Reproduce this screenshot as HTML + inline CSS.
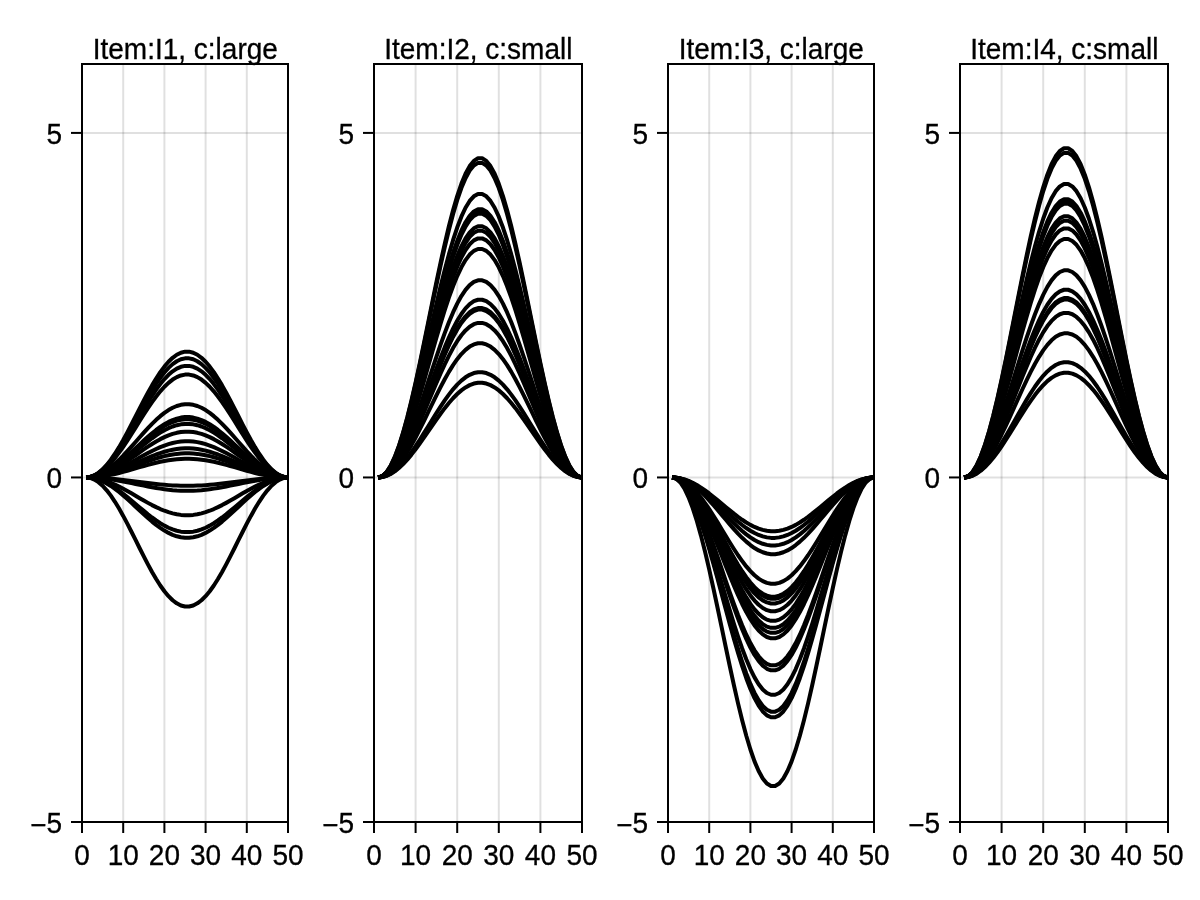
<!DOCTYPE html>
<html><head><meta charset="utf-8"><title>plot</title>
<style>html,body{margin:0;padding:0;background:#fff}svg{display:block}text{font-family:"Liberation Sans",sans-serif;font-size:28px;fill:#000;stroke:#000;stroke-width:0.3px}</style></head><body>
<svg width="1200" height="900" viewBox="0 0 1200 900">
<rect width="1200" height="900" fill="#fff"/>
<g>
<line x1="82.00" y1="64.0" x2="82.00" y2="822.0" stroke="rgba(0,0,0,0.12)" stroke-width="2"/>
<line x1="123.20" y1="64.0" x2="123.20" y2="822.0" stroke="rgba(0,0,0,0.12)" stroke-width="2"/>
<line x1="164.40" y1="64.0" x2="164.40" y2="822.0" stroke="rgba(0,0,0,0.12)" stroke-width="2"/>
<line x1="205.60" y1="64.0" x2="205.60" y2="822.0" stroke="rgba(0,0,0,0.12)" stroke-width="2"/>
<line x1="246.80" y1="64.0" x2="246.80" y2="822.0" stroke="rgba(0,0,0,0.12)" stroke-width="2"/>
<line x1="288.00" y1="64.0" x2="288.00" y2="822.0" stroke="rgba(0,0,0,0.12)" stroke-width="2"/>
<line x1="82" y1="822.00" x2="288" y2="822.00" stroke="rgba(0,0,0,0.12)" stroke-width="2"/>
<line x1="82" y1="477.45" x2="288" y2="477.45" stroke="rgba(0,0,0,0.12)" stroke-width="2"/>
<line x1="82" y1="132.91" x2="288" y2="132.91" stroke="rgba(0,0,0,0.12)" stroke-width="2"/>
<polyline points="86.12,477.45 90.24,476.94 94.36,475.40 98.48,472.85 102.60,469.35 106.72,464.95 110.84,459.72 114.96,453.75 119.08,447.13 123.20,439.98 127.32,432.41 131.44,424.55 135.56,416.52 139.68,408.45 143.80,400.49 147.92,392.75 152.04,385.38 156.16,378.48 160.28,372.17 164.40,366.56 168.52,361.73 172.64,357.78 176.76,354.75 180.88,352.70 185.00,351.67 189.12,351.67 193.24,352.70 197.36,354.75 201.48,357.78 205.60,361.73 209.72,366.56 213.84,372.17 217.96,378.48 222.08,385.38 226.20,392.75 230.32,400.49 234.44,408.45 238.56,416.52 242.68,424.55 246.80,432.41 250.92,439.98 255.04,447.13 259.16,453.75 263.28,459.72 267.40,464.95 271.52,469.35 275.64,472.85 279.76,475.40 283.88,476.94 288.00,477.45" fill="none" stroke="#000" stroke-width="4" stroke-linejoin="round"/>
<polyline points="86.12,477.45 90.24,476.97 94.36,475.50 98.48,473.10 102.60,469.78 106.72,465.61 110.84,460.66 114.96,455.01 119.08,448.74 123.20,441.97 127.32,434.80 131.44,427.35 135.56,419.74 139.68,412.11 143.80,404.56 147.92,397.24 152.04,390.25 156.16,383.72 160.28,377.75 164.40,372.43 168.52,367.86 172.64,364.11 176.76,361.24 180.88,359.31 185.00,358.33 189.12,358.33 193.24,359.31 197.36,361.24 201.48,364.11 205.60,367.86 209.72,372.43 213.84,377.75 217.96,383.72 222.08,390.25 226.20,397.24 230.32,404.56 234.44,412.11 238.56,419.74 242.68,427.35 246.80,434.80 250.92,441.97 255.04,448.74 259.16,455.01 263.28,460.66 267.40,465.61 271.52,469.78 275.64,473.10 279.76,475.50 283.88,476.97 288.00,477.45" fill="none" stroke="#000" stroke-width="4" stroke-linejoin="round"/>
<polyline points="86.12,477.45 90.24,477.00 94.36,475.63 98.48,473.37 102.60,470.27 106.72,466.37 110.84,461.73 114.96,456.43 119.08,450.56 123.20,444.22 127.32,437.51 131.44,430.53 135.56,423.41 139.68,416.26 143.80,409.20 147.92,402.34 152.04,395.79 156.16,389.68 160.28,384.08 164.40,379.10 168.52,374.83 172.64,371.31 176.76,368.63 180.88,366.81 185.00,365.90 189.12,365.90 193.24,366.81 197.36,368.63 201.48,371.31 205.60,374.83 209.72,379.10 213.84,384.08 217.96,389.68 222.08,395.79 226.20,402.34 230.32,409.20 234.44,416.26 238.56,423.41 242.68,430.53 246.80,437.51 250.92,444.22 255.04,450.56 259.16,456.43 263.28,461.73 267.40,466.37 271.52,470.27 275.64,473.37 279.76,475.63 283.88,477.00 288.00,477.45" fill="none" stroke="#000" stroke-width="4" stroke-linejoin="round"/>
<polyline points="86.12,477.45 90.24,477.03 94.36,475.77 98.48,473.69 102.60,470.83 106.72,467.23 110.84,462.96 114.96,458.07 119.08,452.66 123.20,446.81 127.32,440.62 131.44,434.19 135.56,427.62 139.68,421.03 143.80,414.52 147.92,408.19 152.04,402.16 156.16,396.52 160.28,391.36 164.40,386.78 168.52,382.83 172.64,379.59 176.76,377.12 180.88,375.44 185.00,374.60 189.12,374.60 193.24,375.44 197.36,377.12 201.48,379.59 205.60,382.83 209.72,386.78 213.84,391.36 217.96,396.52 222.08,402.16 226.20,408.19 230.32,414.52 234.44,421.03 238.56,427.62 242.68,434.19 246.80,440.62 250.92,446.81 255.04,452.66 259.16,458.07 263.28,462.96 267.40,467.23 271.52,470.83 275.64,473.69 279.76,475.77 283.88,477.03 288.00,477.45" fill="none" stroke="#000" stroke-width="4" stroke-linejoin="round"/>
<polyline points="86.12,477.45 90.24,477.15 94.36,476.26 98.48,474.77 102.60,472.74 106.72,470.17 110.84,467.13 114.96,463.65 119.08,459.80 123.20,455.63 127.32,451.22 131.44,446.64 135.56,441.96 139.68,437.27 143.80,432.63 147.92,428.13 152.04,423.83 156.16,419.81 160.28,416.14 164.40,412.87 168.52,410.06 172.64,407.76 176.76,405.99 180.88,404.80 185.00,404.20 189.12,404.20 193.24,404.80 197.36,405.99 201.48,407.76 205.60,410.06 209.72,412.87 213.84,416.14 217.96,419.81 222.08,423.83 226.20,428.13 230.32,432.63 234.44,437.27 238.56,441.96 242.68,446.64 246.80,451.22 250.92,455.63 255.04,459.80 259.16,463.65 263.28,467.13 267.40,470.17 271.52,472.74 275.64,474.77 279.76,476.26 283.88,477.15 288.00,477.45" fill="none" stroke="#000" stroke-width="4" stroke-linejoin="round"/>
<polyline points="86.12,477.45 90.24,477.21 94.36,476.47 98.48,475.25 102.60,473.57 106.72,471.46 110.84,468.95 114.96,466.08 119.08,462.91 123.20,459.47 127.32,455.84 131.44,452.07 135.56,448.21 139.68,444.35 143.80,440.52 147.92,436.81 152.04,433.27 156.16,429.96 160.28,426.94 164.40,424.24 168.52,421.93 172.64,420.03 176.76,418.58 180.88,417.60 185.00,417.10 189.12,417.10 193.24,417.60 197.36,418.58 201.48,420.03 205.60,421.93 209.72,424.24 213.84,426.94 217.96,429.96 222.08,433.27 226.20,436.81 230.32,440.52 234.44,444.35 238.56,448.21 242.68,452.07 246.80,455.84 250.92,459.47 255.04,462.91 259.16,466.08 263.28,468.95 267.40,471.46 271.52,473.57 275.64,475.25 279.76,476.47 283.88,477.21 288.00,477.45" fill="none" stroke="#000" stroke-width="4" stroke-linejoin="round"/>
<polyline points="86.12,477.45 90.24,477.22 94.36,476.50 98.48,475.32 102.60,473.70 106.72,471.66 110.84,469.24 114.96,466.48 119.08,463.41 123.20,460.10 127.32,456.59 131.44,452.95 135.56,449.23 139.68,445.50 143.80,441.81 147.92,438.23 152.04,434.81 156.16,431.62 160.28,428.69 164.40,426.10 168.52,423.86 172.64,422.03 176.76,420.63 180.88,419.68 185.00,419.20 189.12,419.20 193.24,419.68 197.36,420.63 201.48,422.03 205.60,423.86 209.72,426.10 213.84,428.69 217.96,431.62 222.08,434.81 226.20,438.23 230.32,441.81 234.44,445.50 238.56,449.23 242.68,452.95 246.80,456.59 250.92,460.10 255.04,463.41 259.16,466.48 263.28,469.24 267.40,471.66 271.52,473.70 275.64,475.32 279.76,476.50 283.88,477.22 288.00,477.45" fill="none" stroke="#000" stroke-width="4" stroke-linejoin="round"/>
<polyline points="86.12,477.45 90.24,477.23 94.36,476.58 98.48,475.50 102.60,474.01 106.72,472.13 110.84,469.90 114.96,467.36 119.08,464.55 123.20,461.50 127.32,458.28 131.44,454.93 135.56,451.51 139.68,448.08 143.80,444.69 147.92,441.39 152.04,438.25 156.16,435.31 160.28,432.63 164.40,430.24 168.52,428.18 172.64,426.50 176.76,425.21 180.88,424.34 185.00,423.90 189.12,423.90 193.24,424.34 197.36,425.21 201.48,426.50 205.60,428.18 209.72,430.24 213.84,432.63 217.96,435.31 222.08,438.25 226.20,441.39 230.32,444.69 234.44,448.08 238.56,451.51 242.68,454.93 246.80,458.28 250.92,461.50 255.04,464.55 259.16,467.36 263.28,469.90 267.40,472.13 271.52,474.01 275.64,475.50 279.76,476.58 283.88,477.23 288.00,477.45" fill="none" stroke="#000" stroke-width="4" stroke-linejoin="round"/>
<polyline points="86.12,477.45 90.24,477.27 94.36,476.71 98.48,475.78 102.60,474.51 106.72,472.91 110.84,471.00 114.96,468.83 119.08,466.43 123.20,463.82 127.32,461.07 131.44,458.21 135.56,455.29 139.68,452.35 143.80,449.46 147.92,446.64 152.04,443.96 156.16,441.45 160.28,439.16 164.40,437.12 168.52,435.36 172.64,433.92 176.76,432.82 180.88,432.08 185.00,431.70 189.12,431.70 193.24,432.08 197.36,432.82 201.48,433.92 205.60,435.36 209.72,437.12 213.84,439.16 217.96,441.45 222.08,443.96 226.20,446.64 230.32,449.46 234.44,452.35 238.56,455.29 242.68,458.21 246.80,461.07 250.92,463.82 255.04,466.43 259.16,468.83 263.28,471.00 267.40,472.91 271.52,474.51 275.64,475.78 279.76,476.71 283.88,477.27 288.00,477.45" fill="none" stroke="#000" stroke-width="4" stroke-linejoin="round"/>
<polyline points="86.12,477.45 90.24,477.31 94.36,476.86 98.48,476.13 102.60,475.12 106.72,473.86 110.84,472.35 114.96,470.63 119.08,468.73 123.20,466.67 127.32,464.49 131.44,462.23 135.56,459.91 139.68,457.59 143.80,455.30 147.92,453.08 152.04,450.95 156.16,448.97 160.28,447.15 164.40,445.54 168.52,444.15 172.64,443.01 176.76,442.14 180.88,441.55 185.00,441.25 189.12,441.25 193.24,441.55 197.36,442.14 201.48,443.01 205.60,444.15 209.72,445.54 213.84,447.15 217.96,448.97 222.08,450.95 226.20,453.08 230.32,455.30 234.44,457.59 238.56,459.91 242.68,462.23 246.80,464.49 250.92,466.67 255.04,468.73 259.16,470.63 263.28,472.35 267.40,473.86 271.52,475.12 275.64,476.13 279.76,476.86 283.88,477.31 288.00,477.45" fill="none" stroke="#000" stroke-width="4" stroke-linejoin="round"/>
<polyline points="86.12,477.45 90.24,477.33 94.36,476.98 98.48,476.39 102.60,475.58 106.72,474.56 110.84,473.34 114.96,471.96 119.08,470.43 123.20,468.77 127.32,467.01 131.44,465.19 135.56,463.33 139.68,461.46 143.80,459.62 147.92,457.82 152.04,456.11 156.16,454.51 160.28,453.05 164.40,451.75 168.52,450.63 172.64,449.72 176.76,449.01 180.88,448.54 185.00,448.30 189.12,448.30 193.24,448.54 197.36,449.01 201.48,449.72 205.60,450.63 209.72,451.75 213.84,453.05 217.96,454.51 222.08,456.11 226.20,457.82 230.32,459.62 234.44,461.46 238.56,463.33 242.68,465.19 246.80,467.01 250.92,468.77 255.04,470.43 259.16,471.96 263.28,473.34 267.40,474.56 271.52,475.58 275.64,476.39 279.76,476.98 283.88,477.33 288.00,477.45" fill="none" stroke="#000" stroke-width="4" stroke-linejoin="round"/>
<polyline points="86.12,477.45 90.24,477.36 94.36,477.06 98.48,476.57 102.60,475.90 106.72,475.05 110.84,474.05 114.96,472.90 119.08,471.63 123.20,470.26 127.32,468.80 131.44,467.29 135.56,465.75 139.68,464.20 143.80,462.67 147.92,461.19 152.04,459.77 156.16,458.45 160.28,457.24 164.40,456.16 168.52,455.23 172.64,454.47 176.76,453.89 180.88,453.50 185.00,453.30 189.12,453.30 193.24,453.50 197.36,453.89 201.48,454.47 205.60,455.23 209.72,456.16 213.84,457.24 217.96,458.45 222.08,459.77 226.20,461.19 230.32,462.67 234.44,464.20 238.56,465.75 242.68,467.29 246.80,468.80 250.92,470.26 255.04,471.63 259.16,472.90 263.28,474.05 267.40,475.05 271.52,475.90 275.64,476.57 279.76,477.06 283.88,477.36 288.00,477.45" fill="none" stroke="#000" stroke-width="4" stroke-linejoin="round"/>
<polyline points="86.12,477.45 90.24,477.38 94.36,477.15 98.48,476.77 102.60,476.25 106.72,475.60 110.84,474.82 114.96,473.93 119.08,472.95 123.20,471.88 127.32,470.76 131.44,469.59 135.56,468.39 139.68,467.19 143.80,466.01 147.92,464.86 152.04,463.76 156.16,462.74 160.28,461.80 164.40,460.96 168.52,460.25 172.64,459.66 176.76,459.21 180.88,458.90 185.00,458.75 189.12,458.75 193.24,458.90 197.36,459.21 201.48,459.66 205.60,460.25 209.72,460.96 213.84,461.80 217.96,462.74 222.08,463.76 226.20,464.86 230.32,466.01 234.44,467.19 238.56,468.39 242.68,469.59 246.80,470.76 250.92,471.88 255.04,472.95 259.16,473.93 263.28,474.82 267.40,475.60 271.52,476.25 275.64,476.77 279.76,477.15 283.88,477.38 288.00,477.45" fill="none" stroke="#000" stroke-width="4" stroke-linejoin="round"/>
<polyline points="86.12,477.45 90.24,477.49 94.36,477.59 98.48,477.76 102.60,477.99 106.72,478.28 110.84,478.63 114.96,479.03 119.08,479.47 123.20,479.94 127.32,480.44 131.44,480.96 135.56,481.50 139.68,482.03 143.80,482.56 147.92,483.07 152.04,483.56 156.16,484.02 160.28,484.44 164.40,484.81 168.52,485.13 172.64,485.39 176.76,485.60 180.88,485.73 185.00,485.80 189.12,485.80 193.24,485.73 197.36,485.60 201.48,485.39 205.60,485.13 209.72,484.81 213.84,484.44 217.96,484.02 222.08,483.56 226.20,483.07 230.32,482.56 234.44,482.03 238.56,481.50 242.68,480.96 246.80,480.44 250.92,479.94 255.04,479.47 259.16,479.03 263.28,478.63 267.40,478.28 271.52,477.99 275.64,477.76 279.76,477.59 283.88,477.49 288.00,477.45" fill="none" stroke="#000" stroke-width="4" stroke-linejoin="round"/>
<polyline points="86.12,477.45 90.24,477.51 94.36,477.67 98.48,477.94 102.60,478.31 106.72,478.78 110.84,479.34 114.96,479.97 119.08,480.67 123.20,481.43 127.32,482.23 131.44,483.07 135.56,483.92 139.68,484.78 143.80,485.62 147.92,486.44 152.04,487.22 156.16,487.96 160.28,488.62 164.40,489.22 168.52,489.73 172.64,490.15 176.76,490.47 180.88,490.69 185.00,490.80 189.12,490.80 193.24,490.69 197.36,490.47 201.48,490.15 205.60,489.73 209.72,489.22 213.84,488.62 217.96,487.96 222.08,487.22 226.20,486.44 230.32,485.62 234.44,484.78 238.56,483.92 242.68,483.07 246.80,482.23 250.92,481.43 255.04,480.67 259.16,479.97 263.28,479.34 267.40,478.78 271.52,478.31 275.64,477.94 279.76,477.67 283.88,477.51 288.00,477.45" fill="none" stroke="#000" stroke-width="4" stroke-linejoin="round"/>
<polyline points="86.12,477.45 90.24,477.61 94.36,478.07 98.48,478.84 102.60,479.89 106.72,481.21 110.84,482.78 114.96,484.57 119.08,486.55 123.20,488.70 127.32,490.97 131.44,493.33 135.56,495.74 139.68,498.16 143.80,500.55 147.92,502.87 152.04,505.09 156.16,507.16 160.28,509.05 164.40,510.73 168.52,512.18 172.64,513.37 176.76,514.28 180.88,514.89 185.00,515.20 189.12,515.20 193.24,514.89 197.36,514.28 201.48,513.37 205.60,512.18 209.72,510.73 213.84,509.05 217.96,507.16 222.08,505.09 226.20,502.87 230.32,500.55 234.44,498.16 238.56,495.74 242.68,493.33 246.80,490.97 250.92,488.70 255.04,486.55 259.16,484.57 263.28,482.78 267.40,481.21 271.52,479.89 275.64,478.84 279.76,478.07 283.88,477.61 288.00,477.45" fill="none" stroke="#000" stroke-width="4" stroke-linejoin="round"/>
<polyline points="86.12,477.45 90.24,477.68 94.36,478.35 98.48,479.45 102.60,480.97 106.72,482.89 110.84,485.16 114.96,487.75 119.08,490.63 123.20,493.73 127.32,497.02 131.44,500.44 135.56,503.93 139.68,507.43 143.80,510.89 147.92,514.25 152.04,517.46 156.16,520.45 160.28,523.19 164.40,525.63 168.52,527.73 172.64,529.45 176.76,530.76 180.88,531.65 185.00,532.10 189.12,532.10 193.24,531.65 197.36,530.76 201.48,529.45 205.60,527.73 209.72,525.63 213.84,523.19 217.96,520.45 222.08,517.46 226.20,514.25 230.32,510.89 234.44,507.43 238.56,503.93 242.68,500.44 246.80,497.02 250.92,493.73 255.04,490.63 259.16,487.75 263.28,485.16 267.40,482.89 271.52,480.97 275.64,479.45 279.76,478.35 283.88,477.68 288.00,477.45" fill="none" stroke="#000" stroke-width="4" stroke-linejoin="round"/>
<polyline points="86.12,477.45 90.24,477.70 94.36,478.44 98.48,479.66 102.60,481.34 106.72,483.45 110.84,485.95 114.96,488.82 119.08,491.99 123.20,495.42 127.32,499.05 131.44,502.82 135.56,506.67 139.68,510.53 143.80,514.35 147.92,518.06 152.04,521.59 156.16,524.90 160.28,527.92 164.40,530.61 168.52,532.93 172.64,534.82 176.76,536.27 180.88,537.26 185.00,537.75 189.12,537.75 193.24,537.26 197.36,536.27 201.48,534.82 205.60,532.93 209.72,530.61 213.84,527.92 217.96,524.90 222.08,521.59 226.20,518.06 230.32,514.35 234.44,510.53 238.56,506.67 242.68,502.82 246.80,499.05 250.92,495.42 255.04,491.99 259.16,488.82 263.28,485.95 267.40,483.45 271.52,481.34 275.64,479.66 279.76,478.44 283.88,477.70 288.00,477.45" fill="none" stroke="#000" stroke-width="4" stroke-linejoin="round"/>
<polyline points="86.12,477.45 90.24,477.98 94.36,479.57 98.48,482.17 102.60,485.77 106.72,490.28 110.84,495.65 114.96,501.77 119.08,508.56 123.20,515.90 127.32,523.67 131.44,531.74 135.56,539.97 139.68,548.25 143.80,556.42 147.92,564.35 152.04,571.92 156.16,579.00 160.28,585.47 164.40,591.22 168.52,596.17 172.64,600.24 176.76,603.34 180.88,605.44 185.00,606.50 189.12,606.50 193.24,605.44 197.36,603.34 201.48,600.24 205.60,596.17 209.72,591.22 213.84,585.47 217.96,579.00 222.08,571.92 226.20,564.35 230.32,556.42 234.44,548.25 238.56,539.97 242.68,531.74 246.80,523.67 250.92,515.90 255.04,508.56 259.16,501.77 263.28,495.65 267.40,490.28 271.52,485.77 275.64,482.17 279.76,479.57 283.88,477.98 288.00,477.45" fill="none" stroke="#000" stroke-width="4" stroke-linejoin="round"/>
<rect x="82" y="64.0" width="206" height="758.0" fill="none" stroke="#000" stroke-width="2"/>
<line x1="82.00" y1="822.0" x2="82.00" y2="833.0" stroke="#000" stroke-width="2"/>
<text transform="translate(82.00,864.7) scale(1,1.04)" text-anchor="middle">0</text>
<line x1="123.20" y1="822.0" x2="123.20" y2="833.0" stroke="#000" stroke-width="2"/>
<text transform="translate(123.20,864.7) scale(1,1.04)" text-anchor="middle">10</text>
<line x1="164.40" y1="822.0" x2="164.40" y2="833.0" stroke="#000" stroke-width="2"/>
<text transform="translate(164.40,864.7) scale(1,1.04)" text-anchor="middle">20</text>
<line x1="205.60" y1="822.0" x2="205.60" y2="833.0" stroke="#000" stroke-width="2"/>
<text transform="translate(205.60,864.7) scale(1,1.04)" text-anchor="middle">30</text>
<line x1="246.80" y1="822.0" x2="246.80" y2="833.0" stroke="#000" stroke-width="2"/>
<text transform="translate(246.80,864.7) scale(1,1.04)" text-anchor="middle">40</text>
<line x1="288.00" y1="822.0" x2="288.00" y2="833.0" stroke="#000" stroke-width="2"/>
<text transform="translate(288.00,864.7) scale(1,1.04)" text-anchor="middle">50</text>
<line x1="71" y1="822.00" x2="82" y2="822.00" stroke="#000" stroke-width="2"/>
<text transform="translate(62,832.90) scale(1,1.04)" text-anchor="end"><tspan dy="2.2">−</tspan><tspan dy="-2.2">5</tspan></text>
<line x1="71" y1="477.45" x2="82" y2="477.45" stroke="#000" stroke-width="2"/>
<text transform="translate(62,488.35) scale(1,1.04)" text-anchor="end">0</text>
<line x1="71" y1="132.91" x2="82" y2="132.91" stroke="#000" stroke-width="2"/>
<text transform="translate(62,143.81) scale(1,1.04)" text-anchor="end">5</text>
<text transform="translate(185.30,58.75) scale(1,1.055)" text-anchor="middle">Item:I1, c:large</text>
</g>
<g>
<line x1="374.00" y1="64.0" x2="374.00" y2="822.0" stroke="rgba(0,0,0,0.12)" stroke-width="2"/>
<line x1="415.60" y1="64.0" x2="415.60" y2="822.0" stroke="rgba(0,0,0,0.12)" stroke-width="2"/>
<line x1="457.20" y1="64.0" x2="457.20" y2="822.0" stroke="rgba(0,0,0,0.12)" stroke-width="2"/>
<line x1="498.80" y1="64.0" x2="498.80" y2="822.0" stroke="rgba(0,0,0,0.12)" stroke-width="2"/>
<line x1="540.40" y1="64.0" x2="540.40" y2="822.0" stroke="rgba(0,0,0,0.12)" stroke-width="2"/>
<line x1="582.00" y1="64.0" x2="582.00" y2="822.0" stroke="rgba(0,0,0,0.12)" stroke-width="2"/>
<line x1="374" y1="822.00" x2="582" y2="822.00" stroke="rgba(0,0,0,0.12)" stroke-width="2"/>
<line x1="374" y1="477.45" x2="582" y2="477.45" stroke="rgba(0,0,0,0.12)" stroke-width="2"/>
<line x1="374" y1="132.91" x2="582" y2="132.91" stroke="rgba(0,0,0,0.12)" stroke-width="2"/>
<polyline points="378.16,477.45 382.32,476.14 386.48,472.23 390.64,465.78 394.80,456.90 398.96,445.73 403.12,432.46 407.28,417.31 411.44,400.52 415.60,382.37 419.76,363.16 423.92,343.21 428.08,322.83 432.24,302.37 436.40,282.17 440.56,262.54 444.72,243.83 448.88,226.32 453.04,210.32 457.20,196.08 461.36,183.84 465.52,173.79 469.68,166.11 473.84,160.92 478.00,158.30 482.16,158.30 486.32,160.92 490.48,166.11 494.64,173.79 498.80,183.84 502.96,196.08 507.12,210.32 511.28,226.32 515.44,243.83 519.60,262.54 523.76,282.17 527.92,302.37 532.08,322.83 536.24,343.21 540.40,363.16 544.56,382.37 548.72,400.52 552.88,417.31 557.04,432.46 561.20,445.73 565.36,456.90 569.52,465.78 573.68,472.23 577.84,476.14 582.00,477.45" fill="none" stroke="#000" stroke-width="4" stroke-linejoin="round"/>
<polyline points="378.16,477.45 382.32,476.16 386.48,472.31 390.64,465.95 394.80,457.20 398.96,446.19 403.12,433.11 407.28,418.18 411.44,401.63 415.60,383.74 419.76,364.81 423.92,345.14 428.08,325.06 432.24,304.90 436.40,284.98 440.56,265.64 444.72,247.19 448.88,229.94 453.04,214.17 457.20,200.13 461.36,188.07 465.52,178.17 469.68,170.60 473.84,165.48 478.00,162.90 482.16,162.90 486.32,165.48 490.48,170.60 494.64,178.17 498.80,188.07 502.96,200.13 507.12,214.17 511.28,229.94 515.44,247.19 519.60,265.64 523.76,284.98 527.92,304.90 532.08,325.06 536.24,345.14 540.40,364.81 544.56,383.74 548.72,401.63 552.88,418.18 557.04,433.11 561.20,446.19 565.36,457.20 569.52,465.95 573.68,472.31 577.84,476.16 582.00,477.45" fill="none" stroke="#000" stroke-width="4" stroke-linejoin="round"/>
<polyline points="378.16,477.45 382.32,476.29 386.48,472.81 390.64,467.09 394.80,459.20 398.96,449.28 403.12,437.50 407.28,424.04 411.44,409.13 415.60,393.01 419.76,375.95 423.92,358.22 428.08,340.13 432.24,321.96 436.40,304.01 440.56,286.58 444.72,269.96 448.88,254.41 453.04,240.20 457.20,227.55 461.36,216.68 465.52,207.76 469.68,200.94 473.84,196.32 478.00,194.00 482.16,194.00 486.32,196.32 490.48,200.94 494.64,207.76 498.80,216.68 502.96,227.55 507.12,240.20 511.28,254.41 515.44,269.96 519.60,286.58 523.76,304.01 527.92,321.96 532.08,340.13 536.24,358.22 540.40,375.95 544.56,393.01 548.72,409.13 552.88,424.04 557.04,437.50 561.20,449.28 565.36,459.20 569.52,467.09 573.68,472.81 577.84,476.29 582.00,477.45" fill="none" stroke="#000" stroke-width="4" stroke-linejoin="round"/>
<polyline points="378.16,477.45 382.32,476.35 386.48,473.06 390.64,467.64 394.80,460.18 398.96,450.79 403.12,439.64 407.28,426.90 411.44,412.79 415.60,397.54 419.76,381.39 423.92,364.62 428.08,347.49 432.24,330.30 436.40,313.31 440.56,296.82 444.72,281.09 448.88,266.37 453.04,252.92 457.20,240.95 461.36,230.66 465.52,222.22 469.68,215.76 473.84,211.40 478.00,209.20 482.16,209.20 486.32,211.40 490.48,215.76 494.64,222.22 498.80,230.66 502.96,240.95 507.12,252.92 511.28,266.37 515.44,281.09 519.60,296.82 523.76,313.31 527.92,330.30 532.08,347.49 536.24,364.62 540.40,381.39 544.56,397.54 548.72,412.79 552.88,426.90 557.04,439.64 561.20,450.79 565.36,460.18 569.52,467.64 573.68,473.06 577.84,476.35 582.00,477.45" fill="none" stroke="#000" stroke-width="4" stroke-linejoin="round"/>
<polyline points="378.16,477.45 382.32,476.36 386.48,473.10 390.64,467.73 394.80,460.33 398.96,451.02 403.12,439.96 407.28,427.34 411.44,413.35 415.60,398.22 419.76,382.22 423.92,365.59 428.08,348.61 432.24,331.56 436.40,314.72 440.56,298.37 444.72,282.77 448.88,268.18 453.04,254.85 457.20,242.98 461.36,232.78 465.52,224.41 469.68,218.01 473.84,213.68 478.00,211.50 482.16,211.50 486.32,213.68 490.48,218.01 494.64,224.41 498.80,232.78 502.96,242.98 507.12,254.85 511.28,268.18 515.44,282.77 519.60,298.37 523.76,314.72 527.92,331.56 532.08,348.61 536.24,365.59 540.40,382.22 544.56,398.22 548.72,413.35 552.88,427.34 557.04,439.96 561.20,451.02 565.36,460.33 569.52,467.73 573.68,473.10 577.84,476.36 582.00,477.45" fill="none" stroke="#000" stroke-width="4" stroke-linejoin="round"/>
<polyline points="378.16,477.45 382.32,476.37 386.48,473.14 390.64,467.81 394.80,460.47 398.96,451.24 403.12,440.28 407.28,427.76 411.44,413.89 415.60,398.89 419.76,383.02 423.92,366.53 428.08,349.70 432.24,332.79 436.40,316.10 440.56,299.88 444.72,284.42 448.88,269.95 453.04,256.73 457.20,244.97 461.36,234.85 465.52,226.55 469.68,220.20 473.84,215.91 478.00,213.75 482.16,213.75 486.32,215.91 490.48,220.20 494.64,226.55 498.80,234.85 502.96,244.97 507.12,256.73 511.28,269.95 515.44,284.42 519.60,299.88 523.76,316.10 527.92,332.79 532.08,349.70 536.24,366.53 540.40,383.02 544.56,398.89 548.72,413.89 552.88,427.76 557.04,440.28 561.20,451.24 565.36,460.47 569.52,467.81 573.68,473.14 577.84,476.37 582.00,477.45" fill="none" stroke="#000" stroke-width="4" stroke-linejoin="round"/>
<polyline points="378.16,477.45 382.32,476.42 386.48,473.34 390.64,468.27 394.80,461.28 398.96,452.49 403.12,442.04 407.28,430.12 411.44,416.90 415.60,402.62 419.76,387.50 423.92,371.79 428.08,355.75 432.24,339.65 436.40,323.75 440.56,308.30 444.72,293.57 448.88,279.79 453.04,267.19 457.20,255.99 461.36,246.35 465.52,238.44 469.68,232.40 473.84,228.31 478.00,226.25 482.16,226.25 486.32,228.31 490.48,232.40 494.64,238.44 498.80,246.35 502.96,255.99 507.12,267.19 511.28,279.79 515.44,293.57 519.60,308.30 523.76,323.75 527.92,339.65 532.08,355.75 536.24,371.79 540.40,387.50 544.56,402.62 548.72,416.90 552.88,430.12 557.04,442.04 561.20,452.49 565.36,461.28 569.52,468.27 573.68,473.34 577.84,476.42 582.00,477.45" fill="none" stroke="#000" stroke-width="4" stroke-linejoin="round"/>
<polyline points="378.16,477.45 382.32,476.44 386.48,473.42 390.64,468.43 394.80,461.57 398.96,452.94 403.12,442.68 407.28,430.97 411.44,418.00 415.60,403.97 419.76,389.13 423.92,373.70 428.08,357.96 432.24,342.15 436.40,326.53 440.56,311.36 444.72,296.90 448.88,283.37 453.04,271.00 457.20,260.00 461.36,250.54 465.52,242.77 469.68,236.84 473.84,232.82 478.00,230.80 482.16,230.80 486.32,232.82 490.48,236.84 494.64,242.77 498.80,250.54 502.96,260.00 507.12,271.00 511.28,283.37 515.44,296.90 519.60,311.36 523.76,326.53 527.92,342.15 532.08,357.96 536.24,373.70 540.40,389.13 544.56,403.97 548.72,418.00 552.88,430.97 557.04,442.68 561.20,452.94 565.36,461.57 569.52,468.43 573.68,473.42 577.84,476.44 582.00,477.45" fill="none" stroke="#000" stroke-width="4" stroke-linejoin="round"/>
<polyline points="378.16,477.45 382.32,476.47 386.48,473.54 390.64,468.71 394.80,462.06 398.96,453.69 403.12,443.75 407.28,432.41 411.44,419.83 415.60,406.24 419.76,391.85 423.92,376.90 428.08,361.64 432.24,346.32 436.40,331.18 440.56,316.48 444.72,302.46 448.88,289.35 453.04,277.36 457.20,266.70 461.36,257.53 465.52,250.00 469.68,244.25 473.84,240.36 478.00,238.40 482.16,238.40 486.32,240.36 490.48,244.25 494.64,250.00 498.80,257.53 502.96,266.70 507.12,277.36 511.28,289.35 515.44,302.46 519.60,316.48 523.76,331.18 527.92,346.32 532.08,361.64 536.24,376.90 540.40,391.85 544.56,406.24 548.72,419.83 552.88,432.41 557.04,443.75 561.20,453.69 565.36,462.06 569.52,468.71 573.68,473.54 577.84,476.47 582.00,477.45" fill="none" stroke="#000" stroke-width="4" stroke-linejoin="round"/>
<polyline points="378.16,477.45 382.32,476.52 386.48,473.71 390.64,469.10 394.80,462.74 398.96,454.75 403.12,445.25 407.28,434.40 411.44,422.39 415.60,409.39 419.76,395.64 423.92,381.36 428.08,366.77 432.24,352.13 436.40,337.67 440.56,323.62 444.72,310.22 448.88,297.69 453.04,286.24 457.20,276.04 461.36,267.28 465.52,260.09 469.68,254.59 473.84,250.87 478.00,249.00 482.16,249.00 486.32,250.87 490.48,254.59 494.64,260.09 498.80,267.28 502.96,276.04 507.12,286.24 511.28,297.69 515.44,310.22 519.60,323.62 523.76,337.67 527.92,352.13 532.08,366.77 536.24,381.36 540.40,395.64 544.56,409.39 548.72,422.39 552.88,434.40 557.04,445.25 561.20,454.75 565.36,462.74 569.52,469.10 573.68,473.71 577.84,476.52 582.00,477.45" fill="none" stroke="#000" stroke-width="4" stroke-linejoin="round"/>
<polyline points="378.16,477.45 382.32,476.64 386.48,474.23 390.64,470.24 394.80,464.76 398.96,457.86 403.12,449.66 407.28,440.30 411.44,429.93 415.60,418.72 419.76,406.85 423.92,394.53 428.08,381.94 432.24,369.30 436.40,356.82 440.56,344.70 444.72,333.13 448.88,322.32 453.04,312.43 457.20,303.64 461.36,296.07 465.52,289.87 469.68,285.12 473.84,281.92 478.00,280.30 482.16,280.30 486.32,281.92 490.48,285.12 494.64,289.87 498.80,296.07 502.96,303.64 507.12,312.43 511.28,322.32 515.44,333.13 519.60,344.70 523.76,356.82 527.92,369.30 532.08,381.94 536.24,394.53 540.40,406.85 544.56,418.72 548.72,429.93 552.88,440.30 557.04,449.66 561.20,457.86 565.36,464.76 569.52,470.24 573.68,474.23 577.84,476.64 582.00,477.45" fill="none" stroke="#000" stroke-width="4" stroke-linejoin="round"/>
<polyline points="378.16,477.45 382.32,476.72 386.48,474.55 390.64,470.95 394.80,466.01 398.96,459.79 403.12,452.40 407.28,443.97 411.44,434.62 415.60,424.51 419.76,413.82 423.92,402.71 428.08,391.36 432.24,379.97 436.40,368.72 440.56,357.79 444.72,347.37 448.88,337.62 453.04,328.71 457.20,320.79 461.36,313.97 465.52,308.38 469.68,304.10 473.84,301.21 478.00,299.75 482.16,299.75 486.32,301.21 490.48,304.10 494.64,308.38 498.80,313.97 502.96,320.79 507.12,328.71 511.28,337.62 515.44,347.37 519.60,357.79 523.76,368.72 527.92,379.97 532.08,391.36 536.24,402.71 540.40,413.82 544.56,424.51 548.72,434.62 552.88,443.97 557.04,452.40 561.20,459.79 565.36,466.01 569.52,470.95 573.68,474.55 577.84,476.72 582.00,477.45" fill="none" stroke="#000" stroke-width="4" stroke-linejoin="round"/>
<polyline points="378.16,477.45 382.32,476.76 386.48,474.68 390.64,471.26 394.80,466.55 398.96,460.62 403.12,453.58 407.28,445.54 411.44,436.63 415.60,427.00 419.76,416.81 423.92,406.22 428.08,395.41 432.24,384.55 436.40,373.83 440.56,363.42 444.72,353.48 448.88,344.20 453.04,335.70 457.20,328.15 461.36,321.65 465.52,316.32 469.68,312.24 473.84,309.49 478.00,308.10 482.16,308.10 486.32,309.49 490.48,312.24 494.64,316.32 498.80,321.65 502.96,328.15 507.12,335.70 511.28,344.20 515.44,353.48 519.60,363.42 523.76,373.83 527.92,384.55 532.08,395.41 536.24,406.22 540.40,416.81 544.56,427.00 548.72,436.63 552.88,445.54 557.04,453.58 561.20,460.62 565.36,466.55 569.52,471.26 573.68,474.68 577.84,476.76 582.00,477.45" fill="none" stroke="#000" stroke-width="4" stroke-linejoin="round"/>
<polyline points="378.16,477.45 382.32,476.76 386.48,474.71 390.64,471.31 394.80,466.64 398.96,460.77 403.12,453.79 407.28,445.82 411.44,436.99 415.60,427.45 419.76,417.35 423.92,406.85 428.08,396.13 432.24,385.37 436.40,374.75 440.56,364.43 444.72,354.58 448.88,345.38 453.04,336.96 457.20,329.47 461.36,323.03 465.52,317.75 469.68,313.71 473.84,310.98 478.00,309.60 482.16,309.60 486.32,310.98 490.48,313.71 494.64,317.75 498.80,323.03 502.96,329.47 507.12,336.96 511.28,345.38 515.44,354.58 519.60,364.43 523.76,374.75 527.92,385.37 532.08,396.13 536.24,406.85 540.40,417.35 544.56,427.45 548.72,436.99 552.88,445.82 557.04,453.79 561.20,460.77 565.36,466.64 569.52,471.31 573.68,474.71 577.84,476.76 582.00,477.45" fill="none" stroke="#000" stroke-width="4" stroke-linejoin="round"/>
<polyline points="378.16,477.45 382.32,476.82 386.48,474.92 390.64,471.80 394.80,467.50 398.96,462.09 403.12,455.67 407.28,448.33 411.44,440.20 415.60,431.41 419.76,422.11 423.92,412.44 428.08,402.58 432.24,392.67 436.40,382.88 440.56,373.38 444.72,364.32 448.88,355.84 453.04,348.09 457.20,341.19 461.36,335.27 465.52,330.40 469.68,326.68 473.84,324.17 478.00,322.90 482.16,322.90 486.32,324.17 490.48,326.68 494.64,330.40 498.80,335.27 502.96,341.19 507.12,348.09 511.28,355.84 515.44,364.32 519.60,373.38 523.76,382.88 527.92,392.67 532.08,402.58 536.24,412.44 540.40,422.11 544.56,431.41 548.72,440.20 552.88,448.33 557.04,455.67 561.20,462.09 565.36,467.50 569.52,471.80 573.68,474.92 577.84,476.82 582.00,477.45" fill="none" stroke="#000" stroke-width="4" stroke-linejoin="round"/>
<polyline points="378.16,477.45 382.32,476.90 386.48,475.26 390.64,472.55 394.80,468.81 398.96,464.12 403.12,458.54 407.28,452.17 411.44,445.12 415.60,437.49 419.76,429.41 423.92,421.02 428.08,412.46 432.24,403.86 436.40,395.37 440.56,387.12 444.72,379.25 448.88,371.89 453.04,365.17 457.20,359.18 461.36,354.03 465.52,349.81 469.68,346.58 473.84,344.40 478.00,343.30 482.16,343.30 486.32,344.40 490.48,346.58 494.64,349.81 498.80,354.03 502.96,359.18 507.12,365.17 511.28,371.89 515.44,379.25 519.60,387.12 523.76,395.37 527.92,403.86 532.08,412.46 536.24,421.02 540.40,429.41 544.56,437.49 548.72,445.12 552.88,452.17 557.04,458.54 561.20,464.12 565.36,468.81 569.52,472.55 573.68,475.26 577.84,476.90 582.00,477.45" fill="none" stroke="#000" stroke-width="4" stroke-linejoin="round"/>
<polyline points="378.16,477.45 382.32,477.02 386.48,475.73 390.64,473.60 394.80,470.68 398.96,466.99 403.12,462.62 407.28,457.62 411.44,452.08 415.60,446.10 419.76,439.76 423.92,433.18 428.08,426.46 432.24,419.71 436.40,413.05 440.56,406.58 444.72,400.41 448.88,394.63 453.04,389.36 457.20,384.66 461.36,380.62 465.52,377.31 469.68,374.78 473.84,373.06 478.00,372.20 482.16,372.20 486.32,373.06 490.48,374.78 494.64,377.31 498.80,380.62 502.96,384.66 507.12,389.36 511.28,394.63 515.44,400.41 519.60,406.58 523.76,413.05 527.92,419.71 532.08,426.46 536.24,433.18 540.40,439.76 544.56,446.10 548.72,452.08 552.88,457.62 557.04,462.62 561.20,466.99 565.36,470.68 569.52,473.60 573.68,475.73 577.84,477.02 582.00,477.45" fill="none" stroke="#000" stroke-width="4" stroke-linejoin="round"/>
<polyline points="378.16,477.45 382.32,477.07 386.48,475.91 390.64,473.99 394.80,471.36 398.96,468.05 403.12,464.11 407.28,459.62 411.44,454.64 415.60,449.26 419.76,443.56 423.92,437.64 428.08,431.60 432.24,425.53 436.40,419.54 440.56,413.72 444.72,408.17 448.88,402.97 453.04,398.23 457.20,394.00 461.36,390.37 465.52,387.39 469.68,385.12 473.84,383.58 478.00,382.80 482.16,382.80 486.32,383.58 490.48,385.12 494.64,387.39 498.80,390.37 502.96,394.00 507.12,398.23 511.28,402.97 515.44,408.17 519.60,413.72 523.76,419.54 527.92,425.53 532.08,431.60 536.24,437.64 540.40,443.56 544.56,449.26 548.72,454.64 552.88,459.62 557.04,464.11 561.20,468.05 565.36,471.36 569.52,473.99 573.68,475.91 577.84,477.07 582.00,477.45" fill="none" stroke="#000" stroke-width="4" stroke-linejoin="round"/>
<rect x="374" y="64.0" width="208" height="758.0" fill="none" stroke="#000" stroke-width="2"/>
<line x1="374.00" y1="822.0" x2="374.00" y2="833.0" stroke="#000" stroke-width="2"/>
<text transform="translate(374.00,864.7) scale(1,1.04)" text-anchor="middle">0</text>
<line x1="415.60" y1="822.0" x2="415.60" y2="833.0" stroke="#000" stroke-width="2"/>
<text transform="translate(415.60,864.7) scale(1,1.04)" text-anchor="middle">10</text>
<line x1="457.20" y1="822.0" x2="457.20" y2="833.0" stroke="#000" stroke-width="2"/>
<text transform="translate(457.20,864.7) scale(1,1.04)" text-anchor="middle">20</text>
<line x1="498.80" y1="822.0" x2="498.80" y2="833.0" stroke="#000" stroke-width="2"/>
<text transform="translate(498.80,864.7) scale(1,1.04)" text-anchor="middle">30</text>
<line x1="540.40" y1="822.0" x2="540.40" y2="833.0" stroke="#000" stroke-width="2"/>
<text transform="translate(540.40,864.7) scale(1,1.04)" text-anchor="middle">40</text>
<line x1="582.00" y1="822.0" x2="582.00" y2="833.0" stroke="#000" stroke-width="2"/>
<text transform="translate(582.00,864.7) scale(1,1.04)" text-anchor="middle">50</text>
<line x1="363" y1="822.00" x2="374" y2="822.00" stroke="#000" stroke-width="2"/>
<text transform="translate(354,832.90) scale(1,1.04)" text-anchor="end"><tspan dy="2.2">−</tspan><tspan dy="-2.2">5</tspan></text>
<line x1="363" y1="477.45" x2="374" y2="477.45" stroke="#000" stroke-width="2"/>
<text transform="translate(354,488.35) scale(1,1.04)" text-anchor="end">0</text>
<line x1="363" y1="132.91" x2="374" y2="132.91" stroke="#000" stroke-width="2"/>
<text transform="translate(354,143.81) scale(1,1.04)" text-anchor="end">5</text>
<text transform="translate(478.30,58.75) scale(1,1.055)" text-anchor="middle">Item:I2, c:small</text>
</g>
<g>
<line x1="668.00" y1="64.0" x2="668.00" y2="822.0" stroke="rgba(0,0,0,0.12)" stroke-width="2"/>
<line x1="709.20" y1="64.0" x2="709.20" y2="822.0" stroke="rgba(0,0,0,0.12)" stroke-width="2"/>
<line x1="750.40" y1="64.0" x2="750.40" y2="822.0" stroke="rgba(0,0,0,0.12)" stroke-width="2"/>
<line x1="791.60" y1="64.0" x2="791.60" y2="822.0" stroke="rgba(0,0,0,0.12)" stroke-width="2"/>
<line x1="832.80" y1="64.0" x2="832.80" y2="822.0" stroke="rgba(0,0,0,0.12)" stroke-width="2"/>
<line x1="874.00" y1="64.0" x2="874.00" y2="822.0" stroke="rgba(0,0,0,0.12)" stroke-width="2"/>
<line x1="668" y1="822.00" x2="874" y2="822.00" stroke="rgba(0,0,0,0.12)" stroke-width="2"/>
<line x1="668" y1="477.45" x2="874" y2="477.45" stroke="rgba(0,0,0,0.12)" stroke-width="2"/>
<line x1="668" y1="132.91" x2="874" y2="132.91" stroke="rgba(0,0,0,0.12)" stroke-width="2"/>
<polyline points="672.12,477.45 676.24,477.68 680.36,478.33 684.48,479.42 688.60,480.92 692.72,482.80 696.84,485.03 700.96,487.59 705.08,490.41 709.20,493.47 713.32,496.71 717.44,500.07 721.56,503.50 725.68,506.95 729.80,510.35 733.92,513.66 738.04,516.81 742.16,519.76 746.28,522.46 750.40,524.86 754.52,526.92 758.64,528.61 762.76,529.90 766.88,530.78 771.00,531.22 775.12,531.22 779.24,530.78 783.36,529.90 787.48,528.61 791.60,526.92 795.72,524.86 799.84,522.46 803.96,519.76 808.08,516.81 812.20,513.66 816.32,510.35 820.44,506.95 824.56,503.50 828.68,500.07 832.80,496.71 836.92,493.47 841.04,490.41 845.16,487.59 849.28,485.03 853.40,482.80 857.52,480.92 861.64,479.42 865.76,478.33 869.88,477.68 874.00,477.45" fill="none" stroke="#000" stroke-width="4" stroke-linejoin="round"/>
<polyline points="672.12,477.45 676.24,477.70 680.36,478.44 684.48,479.66 688.60,481.35 692.72,483.46 696.84,485.97 700.96,488.84 705.08,492.02 709.20,495.46 713.32,499.09 717.44,502.87 721.56,506.73 725.68,510.60 729.80,514.43 733.92,518.14 738.04,521.69 742.16,525.00 746.28,528.03 750.40,530.73 754.52,533.05 758.64,534.95 762.76,536.40 766.88,537.38 771.00,537.88 775.12,537.88 779.24,537.38 783.36,536.40 787.48,534.95 791.60,533.05 795.72,530.73 799.84,528.03 803.96,525.00 808.08,521.69 812.20,518.14 816.32,514.43 820.44,510.60 824.56,506.73 828.68,502.87 832.80,499.09 836.92,495.46 841.04,492.02 845.16,488.84 849.28,485.97 853.40,483.46 857.52,481.35 861.64,479.66 865.76,478.44 869.88,477.70 874.00,477.45" fill="none" stroke="#000" stroke-width="4" stroke-linejoin="round"/>
<polyline points="672.12,477.45 676.24,477.73 680.36,478.57 684.48,479.94 688.60,481.83 692.72,484.21 696.84,487.04 700.96,490.27 705.08,493.84 709.20,497.71 713.32,501.80 717.44,506.06 721.56,510.40 725.68,514.76 729.80,519.06 733.92,523.24 738.04,527.23 742.16,530.96 746.28,534.37 750.40,537.40 754.52,540.01 758.64,542.15 762.76,543.79 766.88,544.89 771.00,545.45 775.12,545.45 779.24,544.89 783.36,543.79 787.48,542.15 791.60,540.01 795.72,537.40 799.84,534.37 803.96,530.96 808.08,527.23 812.20,523.24 816.32,519.06 820.44,514.76 824.56,510.40 828.68,506.06 832.80,501.80 836.92,497.71 841.04,493.84 845.16,490.27 849.28,487.04 853.40,484.21 857.52,481.83 861.64,479.94 865.76,478.57 869.88,477.73 874.00,477.45" fill="none" stroke="#000" stroke-width="4" stroke-linejoin="round"/>
<polyline points="672.12,477.45 676.24,477.77 680.36,478.71 684.48,480.26 688.60,482.39 692.72,485.08 696.84,488.27 700.96,491.91 705.08,495.94 709.20,500.30 713.32,504.92 717.44,509.72 721.56,514.61 725.68,519.53 729.80,524.38 733.92,529.10 738.04,533.60 742.16,537.80 746.28,541.65 750.40,545.07 754.52,548.01 758.64,550.43 762.76,552.27 766.88,553.52 771.00,554.15 775.12,554.15 779.24,553.52 783.36,552.27 787.48,550.43 791.60,548.01 795.72,545.07 799.84,541.65 803.96,537.80 808.08,533.60 812.20,529.10 816.32,524.38 820.44,519.53 824.56,514.61 828.68,509.72 832.80,504.92 836.92,500.30 841.04,495.94 845.16,491.91 849.28,488.27 853.40,485.08 857.52,482.39 861.64,480.26 865.76,478.71 869.88,477.77 874.00,477.45" fill="none" stroke="#000" stroke-width="4" stroke-linejoin="round"/>
<polyline points="672.12,477.45 676.24,477.89 680.36,479.19 684.48,481.34 688.60,484.30 692.72,488.02 696.84,492.44 700.96,497.49 705.08,503.08 709.20,509.12 713.32,515.52 717.44,522.17 721.56,528.95 725.68,535.77 729.80,542.50 733.92,549.03 738.04,555.27 742.16,561.09 746.28,566.42 750.40,571.17 754.52,575.25 758.64,578.59 762.76,581.15 766.88,582.88 771.00,583.75 775.12,583.75 779.24,582.88 783.36,581.15 787.48,578.59 791.60,575.25 795.72,571.17 799.84,566.42 803.96,561.09 808.08,555.27 812.20,549.03 816.32,542.50 820.44,535.77 824.56,528.95 828.68,522.17 832.80,515.52 836.92,509.12 841.04,503.08 845.16,497.49 849.28,492.44 853.40,488.02 857.52,484.30 861.64,481.34 865.76,479.19 869.88,477.89 874.00,477.45" fill="none" stroke="#000" stroke-width="4" stroke-linejoin="round"/>
<polyline points="672.12,477.45 676.24,477.94 680.36,479.41 684.48,481.81 688.60,485.13 692.72,489.30 696.84,494.26 700.96,499.92 705.08,506.19 709.20,512.96 713.32,520.14 717.44,527.59 721.56,535.20 725.68,542.84 729.80,550.39 733.92,557.72 738.04,564.71 742.16,571.25 746.28,577.22 750.40,582.54 754.52,587.11 758.64,590.86 762.76,593.73 766.88,595.67 771.00,596.65 775.12,596.65 779.24,595.67 783.36,593.73 787.48,590.86 791.60,587.11 795.72,582.54 799.84,577.22 803.96,571.25 808.08,564.71 812.20,557.72 816.32,550.39 820.44,542.84 824.56,535.20 828.68,527.59 832.80,520.14 836.92,512.96 841.04,506.19 845.16,499.92 849.28,494.26 853.40,489.30 857.52,485.13 861.64,481.81 865.76,479.41 869.88,477.94 874.00,477.45" fill="none" stroke="#000" stroke-width="4" stroke-linejoin="round"/>
<polyline points="672.12,477.45 676.24,477.95 680.36,479.44 684.48,481.89 688.60,485.27 692.72,489.51 696.84,494.55 700.96,500.31 705.08,506.69 709.20,513.59 713.32,520.89 717.44,528.48 721.56,536.22 725.68,543.99 729.80,551.67 733.92,559.13 738.04,566.25 742.16,572.90 746.28,578.98 750.40,584.39 754.52,589.05 758.64,592.86 762.76,595.78 766.88,597.76 771.00,598.75 775.12,598.75 779.24,597.76 783.36,595.78 787.48,592.86 791.60,589.05 795.72,584.39 799.84,578.98 803.96,572.90 808.08,566.25 812.20,559.13 816.32,551.67 820.44,543.99 824.56,536.22 828.68,528.48 832.80,520.89 836.92,513.59 841.04,506.69 845.16,500.31 849.28,494.55 853.40,489.51 857.52,485.27 861.64,481.89 865.76,479.44 869.88,477.95 874.00,477.45" fill="none" stroke="#000" stroke-width="4" stroke-linejoin="round"/>
<polyline points="672.12,477.45 676.24,477.97 680.36,479.52 684.48,482.06 688.60,485.57 692.72,489.98 696.84,495.22 700.96,501.20 705.08,507.83 709.20,514.99 713.32,522.57 717.44,530.45 721.56,538.50 725.68,546.57 729.80,554.55 733.92,562.30 738.04,569.69 742.16,576.60 746.28,582.91 750.40,588.54 754.52,593.37 758.64,597.33 762.76,600.37 766.88,602.42 771.00,603.45 775.12,603.45 779.24,602.42 783.36,600.37 787.48,597.33 791.60,593.37 795.72,588.54 799.84,582.91 803.96,576.60 808.08,569.69 812.20,562.30 816.32,554.55 820.44,546.57 824.56,538.50 828.68,530.45 832.80,522.57 836.92,514.99 841.04,507.83 845.16,501.20 849.28,495.22 853.40,489.98 857.52,485.57 861.64,482.06 865.76,479.52 869.88,477.97 874.00,477.45" fill="none" stroke="#000" stroke-width="4" stroke-linejoin="round"/>
<polyline points="672.12,477.45 676.24,478.00 680.36,479.64 684.48,482.35 688.60,486.07 692.72,490.75 696.84,496.32 700.96,502.67 705.08,509.71 709.20,517.31 713.32,525.37 717.44,533.73 721.56,542.27 725.68,550.85 729.80,559.32 733.92,567.55 738.04,575.40 742.16,582.73 746.28,589.44 750.40,595.41 754.52,600.54 758.64,604.76 762.76,607.98 766.88,610.15 771.00,611.25 775.12,611.25 779.24,610.15 783.36,607.98 787.48,604.76 791.60,600.54 795.72,595.41 799.84,589.44 803.96,582.73 808.08,575.40 812.20,567.55 816.32,559.32 820.44,550.85 824.56,542.27 828.68,533.73 832.80,525.37 836.92,517.31 841.04,509.71 845.16,502.67 849.28,496.32 853.40,490.75 857.52,486.07 861.64,482.35 865.76,479.64 869.88,478.00 874.00,477.45" fill="none" stroke="#000" stroke-width="4" stroke-linejoin="round"/>
<polyline points="672.12,477.45 676.24,478.04 680.36,479.80 684.48,482.70 688.60,486.69 692.72,491.70 696.84,497.66 700.96,504.47 705.08,512.01 709.20,520.16 713.32,528.79 717.44,537.75 721.56,546.90 725.68,556.09 729.80,565.17 733.92,573.98 738.04,582.39 742.16,590.25 746.28,597.44 750.40,603.83 754.52,609.33 758.64,613.84 762.76,617.29 766.88,619.62 771.00,620.80 775.12,620.80 779.24,619.62 783.36,617.29 787.48,613.84 791.60,609.33 795.72,603.83 799.84,597.44 803.96,590.25 808.08,582.39 812.20,573.98 816.32,565.17 820.44,556.09 824.56,546.90 828.68,537.75 832.80,528.79 836.92,520.16 841.04,512.01 845.16,504.47 849.28,497.66 853.40,491.70 857.52,486.69 861.64,482.70 865.76,479.80 869.88,478.04 874.00,477.45" fill="none" stroke="#000" stroke-width="4" stroke-linejoin="round"/>
<polyline points="672.12,477.45 676.24,478.07 680.36,479.92 684.48,482.96 688.60,487.14 692.72,492.40 696.84,498.66 700.96,505.80 705.08,513.71 709.20,522.26 713.32,531.31 717.44,540.72 721.56,550.32 725.68,559.96 729.80,569.48 733.92,578.73 738.04,587.55 742.16,595.80 746.28,603.34 750.40,610.05 754.52,615.82 758.64,620.55 762.76,624.17 766.88,626.62 771.00,627.85 775.12,627.85 779.24,626.62 783.36,624.17 787.48,620.55 791.60,615.82 795.72,610.05 799.84,603.34 803.96,595.80 808.08,587.55 812.20,578.73 816.32,569.48 820.44,559.96 824.56,550.32 828.68,540.72 832.80,531.31 836.92,522.26 841.04,513.71 845.16,505.80 849.28,498.66 853.40,492.40 857.52,487.14 861.64,482.96 865.76,479.92 869.88,478.07 874.00,477.45" fill="none" stroke="#000" stroke-width="4" stroke-linejoin="round"/>
<polyline points="672.12,477.45 676.24,478.09 680.36,480.00 684.48,483.14 688.60,487.46 692.72,492.90 696.84,499.36 700.96,506.74 705.08,514.91 709.20,523.75 713.32,533.10 717.44,542.82 721.56,552.74 725.68,562.70 729.80,572.54 733.92,582.09 738.04,591.21 742.16,599.73 746.28,607.52 750.40,614.46 754.52,620.42 758.64,625.31 762.76,629.05 766.88,631.58 771.00,632.85 775.12,632.85 779.24,631.58 783.36,629.05 787.48,625.31 791.60,620.42 795.72,614.46 799.84,607.52 803.96,599.73 808.08,591.21 812.20,582.09 816.32,572.54 820.44,562.70 824.56,552.74 828.68,542.82 832.80,533.10 836.92,523.75 841.04,514.91 845.16,506.74 849.28,499.36 853.40,492.90 857.52,487.46 861.64,483.14 865.76,480.00 869.88,478.09 874.00,477.45" fill="none" stroke="#000" stroke-width="4" stroke-linejoin="round"/>
<polyline points="672.12,477.45 676.24,478.12 680.36,480.09 684.48,483.34 688.60,487.81 692.72,493.44 696.84,500.13 700.96,507.77 705.08,516.23 709.20,525.37 713.32,535.05 717.44,545.11 721.56,555.38 725.68,565.69 729.80,575.87 733.92,585.76 738.04,595.20 742.16,604.02 746.28,612.08 750.40,619.26 754.52,625.43 758.64,630.49 762.76,634.36 766.88,636.98 771.00,638.30 775.12,638.30 779.24,636.98 783.36,634.36 787.48,630.49 791.60,625.43 795.72,619.26 799.84,612.08 803.96,604.02 808.08,595.20 812.20,585.76 816.32,575.87 820.44,565.69 824.56,555.38 828.68,545.11 832.80,535.05 836.92,525.37 841.04,516.23 845.16,507.77 849.28,500.13 853.40,493.44 857.52,487.81 861.64,483.34 865.76,480.09 869.88,478.12 874.00,477.45" fill="none" stroke="#000" stroke-width="4" stroke-linejoin="round"/>
<polyline points="672.12,477.45 676.24,478.23 680.36,480.53 684.48,484.33 688.60,489.56 692.72,496.13 696.84,503.94 700.96,512.86 705.08,522.75 709.20,533.43 713.32,544.74 717.44,556.49 721.56,568.48 725.68,580.53 729.80,592.43 733.92,603.98 738.04,615.00 742.16,625.30 746.28,634.72 750.40,643.11 754.52,650.32 758.64,656.23 762.76,660.75 766.88,663.81 771.00,665.35 775.12,665.35 779.24,663.81 783.36,660.75 787.48,656.23 791.60,650.32 795.72,643.11 799.84,634.72 803.96,625.30 808.08,615.00 812.20,603.98 816.32,592.43 820.44,580.53 824.56,568.48 828.68,556.49 832.80,544.74 836.92,533.43 841.04,522.75 845.16,512.86 849.28,503.94 853.40,496.13 857.52,489.56 861.64,484.33 865.76,480.53 869.88,478.23 874.00,477.45" fill="none" stroke="#000" stroke-width="4" stroke-linejoin="round"/>
<polyline points="672.12,477.45 676.24,478.25 680.36,480.61 684.48,484.51 688.60,489.88 692.72,496.63 696.84,504.65 700.96,513.81 705.08,523.95 709.20,534.92 713.32,546.53 717.44,558.59 721.56,570.91 725.68,583.27 729.80,595.49 733.92,607.35 738.04,618.66 742.16,629.24 746.28,638.91 750.40,647.52 754.52,654.92 758.64,660.99 762.76,665.63 766.88,668.77 771.00,670.35 775.12,670.35 779.24,668.77 783.36,665.63 787.48,660.99 791.60,654.92 795.72,647.52 799.84,638.91 803.96,629.24 808.08,618.66 812.20,607.35 816.32,595.49 820.44,583.27 824.56,570.91 828.68,558.59 832.80,546.53 836.92,534.92 841.04,523.95 845.16,513.81 849.28,504.65 853.40,496.63 857.52,489.88 861.64,484.51 865.76,480.61 869.88,478.25 874.00,477.45" fill="none" stroke="#000" stroke-width="4" stroke-linejoin="round"/>
<polyline points="672.12,477.45 676.24,478.35 680.36,481.01 684.48,485.40 688.60,491.45 692.72,499.05 696.84,508.09 700.96,518.40 705.08,529.83 709.20,542.19 713.32,555.27 717.44,568.86 721.56,582.73 725.68,596.66 729.80,610.42 733.92,623.78 738.04,636.52 742.16,648.44 746.28,659.33 750.40,669.03 754.52,677.36 758.64,684.20 762.76,689.43 766.88,692.97 771.00,694.75 775.12,694.75 779.24,692.97 783.36,689.43 787.48,684.20 791.60,677.36 795.72,669.03 799.84,659.33 803.96,648.44 808.08,636.52 812.20,623.78 816.32,610.42 820.44,596.66 824.56,582.73 828.68,568.86 832.80,555.27 836.92,542.19 841.04,529.83 845.16,518.40 849.28,508.09 853.40,499.05 857.52,491.45 861.64,485.40 865.76,481.01 869.88,478.35 874.00,477.45" fill="none" stroke="#000" stroke-width="4" stroke-linejoin="round"/>
<polyline points="672.12,477.45 676.24,478.42 680.36,481.29 684.48,486.02 688.60,492.54 692.72,500.73 696.84,510.47 700.96,521.59 705.08,533.91 709.20,547.22 713.32,561.32 717.44,575.96 721.56,590.92 725.68,605.93 729.80,620.76 733.92,635.16 738.04,648.89 742.16,661.74 746.28,673.48 750.40,683.93 754.52,692.91 758.64,700.28 762.76,705.92 766.88,709.73 771.00,711.65 775.12,711.65 779.24,709.73 783.36,705.92 787.48,700.28 791.60,692.91 795.72,683.93 799.84,673.48 803.96,661.74 808.08,648.89 812.20,635.16 816.32,620.76 820.44,605.93 824.56,590.92 828.68,575.96 832.80,561.32 836.92,547.22 841.04,533.91 845.16,521.59 849.28,510.47 853.40,500.73 857.52,492.54 861.64,486.02 865.76,481.29 869.88,478.42 874.00,477.45" fill="none" stroke="#000" stroke-width="4" stroke-linejoin="round"/>
<polyline points="672.12,477.45 676.24,478.44 680.36,481.38 684.48,486.23 688.60,492.90 692.72,501.29 696.84,511.27 700.96,522.65 705.08,535.27 709.20,548.91 713.32,563.34 717.44,578.34 721.56,593.65 725.68,609.03 729.80,624.21 733.92,638.96 738.04,653.03 742.16,666.18 746.28,678.21 750.40,688.91 754.52,698.11 758.64,705.66 762.76,711.43 766.88,715.33 771.00,717.30 775.12,717.30 779.24,715.33 783.36,711.43 787.48,705.66 791.60,698.11 795.72,688.91 799.84,678.21 803.96,666.18 808.08,653.03 812.20,638.96 816.32,624.21 820.44,609.03 824.56,593.65 828.68,578.34 832.80,563.34 836.92,548.91 841.04,535.27 845.16,522.65 849.28,511.27 853.40,501.29 857.52,492.90 861.64,486.23 865.76,481.38 869.88,478.44 874.00,477.45" fill="none" stroke="#000" stroke-width="4" stroke-linejoin="round"/>
<polyline points="672.12,477.45 676.24,478.72 680.36,482.51 684.48,488.74 688.60,497.33 692.72,508.13 696.84,520.96 700.96,535.61 705.08,551.84 709.20,569.39 713.32,587.96 717.44,607.26 721.56,626.96 725.68,646.74 729.80,666.28 733.92,685.25 738.04,703.35 742.16,720.28 746.28,735.75 750.40,749.52 754.52,761.36 758.64,771.07 762.76,778.50 766.88,783.52 771.00,786.05 775.12,786.05 779.24,783.52 783.36,778.50 787.48,771.07 791.60,761.36 795.72,749.52 799.84,735.75 803.96,720.28 808.08,703.35 812.20,685.25 816.32,666.28 820.44,646.74 824.56,626.96 828.68,607.26 832.80,587.96 836.92,569.39 841.04,551.84 845.16,535.61 849.28,520.96 853.40,508.13 857.52,497.33 861.64,488.74 865.76,482.51 869.88,478.72 874.00,477.45" fill="none" stroke="#000" stroke-width="4" stroke-linejoin="round"/>
<rect x="668" y="64.0" width="206" height="758.0" fill="none" stroke="#000" stroke-width="2"/>
<line x1="668.00" y1="822.0" x2="668.00" y2="833.0" stroke="#000" stroke-width="2"/>
<text transform="translate(668.00,864.7) scale(1,1.04)" text-anchor="middle">0</text>
<line x1="709.20" y1="822.0" x2="709.20" y2="833.0" stroke="#000" stroke-width="2"/>
<text transform="translate(709.20,864.7) scale(1,1.04)" text-anchor="middle">10</text>
<line x1="750.40" y1="822.0" x2="750.40" y2="833.0" stroke="#000" stroke-width="2"/>
<text transform="translate(750.40,864.7) scale(1,1.04)" text-anchor="middle">20</text>
<line x1="791.60" y1="822.0" x2="791.60" y2="833.0" stroke="#000" stroke-width="2"/>
<text transform="translate(791.60,864.7) scale(1,1.04)" text-anchor="middle">30</text>
<line x1="832.80" y1="822.0" x2="832.80" y2="833.0" stroke="#000" stroke-width="2"/>
<text transform="translate(832.80,864.7) scale(1,1.04)" text-anchor="middle">40</text>
<line x1="874.00" y1="822.0" x2="874.00" y2="833.0" stroke="#000" stroke-width="2"/>
<text transform="translate(874.00,864.7) scale(1,1.04)" text-anchor="middle">50</text>
<line x1="657" y1="822.00" x2="668" y2="822.00" stroke="#000" stroke-width="2"/>
<text transform="translate(648,832.90) scale(1,1.04)" text-anchor="end"><tspan dy="2.2">−</tspan><tspan dy="-2.2">5</tspan></text>
<line x1="657" y1="477.45" x2="668" y2="477.45" stroke="#000" stroke-width="2"/>
<text transform="translate(648,488.35) scale(1,1.04)" text-anchor="end">0</text>
<line x1="657" y1="132.91" x2="668" y2="132.91" stroke="#000" stroke-width="2"/>
<text transform="translate(648,143.81) scale(1,1.04)" text-anchor="end">5</text>
<text transform="translate(771.30,58.75) scale(1,1.055)" text-anchor="middle">Item:I3, c:large</text>
</g>
<g>
<line x1="960.00" y1="64.0" x2="960.00" y2="822.0" stroke="rgba(0,0,0,0.12)" stroke-width="2"/>
<line x1="1001.60" y1="64.0" x2="1001.60" y2="822.0" stroke="rgba(0,0,0,0.12)" stroke-width="2"/>
<line x1="1043.20" y1="64.0" x2="1043.20" y2="822.0" stroke="rgba(0,0,0,0.12)" stroke-width="2"/>
<line x1="1084.80" y1="64.0" x2="1084.80" y2="822.0" stroke="rgba(0,0,0,0.12)" stroke-width="2"/>
<line x1="1126.40" y1="64.0" x2="1126.40" y2="822.0" stroke="rgba(0,0,0,0.12)" stroke-width="2"/>
<line x1="1168.00" y1="64.0" x2="1168.00" y2="822.0" stroke="rgba(0,0,0,0.12)" stroke-width="2"/>
<line x1="960" y1="822.00" x2="1168" y2="822.00" stroke="rgba(0,0,0,0.12)" stroke-width="2"/>
<line x1="960" y1="477.45" x2="1168" y2="477.45" stroke="rgba(0,0,0,0.12)" stroke-width="2"/>
<line x1="960" y1="132.91" x2="1168" y2="132.91" stroke="rgba(0,0,0,0.12)" stroke-width="2"/>
<polyline points="964.16,477.45 968.32,476.10 972.48,472.07 976.64,465.41 980.80,456.25 984.96,444.74 989.12,431.05 993.28,415.43 997.44,398.11 1001.60,379.39 1005.76,359.58 1009.92,339.00 1014.08,317.99 1018.24,296.89 1022.40,276.05 1026.56,255.81 1030.72,236.51 1034.88,218.45 1039.04,201.95 1043.20,187.26 1047.36,174.64 1051.52,164.28 1055.68,156.35 1059.84,151.00 1064.00,148.30 1068.16,148.30 1072.32,151.00 1076.48,156.35 1080.64,164.28 1084.80,174.64 1088.96,187.26 1093.12,201.95 1097.28,218.45 1101.44,236.51 1105.60,255.81 1109.76,276.05 1113.92,296.89 1118.08,317.99 1122.24,339.00 1126.40,359.58 1130.56,379.39 1134.72,398.11 1138.88,415.43 1143.04,431.05 1147.20,444.74 1151.36,456.25 1155.52,465.41 1159.68,472.07 1163.84,476.10 1168.00,477.45" fill="none" stroke="#000" stroke-width="4" stroke-linejoin="round"/>
<polyline points="964.16,477.45 968.32,476.12 972.48,472.14 976.64,465.58 980.80,456.55 984.96,445.20 989.12,431.70 993.28,416.29 997.44,399.22 1001.60,380.77 1005.76,361.23 1009.92,340.94 1014.08,320.22 1018.24,299.41 1022.40,278.86 1026.56,258.91 1030.72,239.87 1034.88,222.07 1039.04,205.80 1043.20,191.32 1047.36,178.87 1051.52,168.65 1055.68,160.84 1059.84,155.56 1064.00,152.90 1068.16,152.90 1072.32,155.56 1076.48,160.84 1080.64,168.65 1084.80,178.87 1088.96,191.32 1093.12,205.80 1097.28,222.07 1101.44,239.87 1105.60,258.91 1109.76,278.86 1113.92,299.41 1118.08,320.22 1122.24,340.94 1126.40,361.23 1130.56,380.77 1134.72,399.22 1138.88,416.29 1143.04,431.70 1147.20,445.20 1151.36,456.55 1155.52,465.58 1159.68,472.14 1163.84,476.12 1168.00,477.45" fill="none" stroke="#000" stroke-width="4" stroke-linejoin="round"/>
<polyline points="964.16,477.45 968.32,476.25 972.48,472.65 976.64,466.72 980.80,458.55 984.96,448.29 989.12,436.09 993.28,422.15 997.44,406.72 1001.60,390.03 1005.76,372.37 1009.92,354.02 1014.08,335.28 1018.24,316.47 1022.40,297.89 1026.56,279.85 1030.72,262.64 1034.88,246.54 1039.04,231.83 1043.20,218.74 1047.36,207.48 1051.52,198.24 1055.68,191.18 1059.84,186.41 1064.00,184.00 1068.16,184.00 1072.32,186.41 1076.48,191.18 1080.64,198.24 1084.80,207.48 1088.96,218.74 1093.12,231.83 1097.28,246.54 1101.44,262.64 1105.60,279.85 1109.76,297.89 1113.92,316.47 1118.08,335.28 1122.24,354.02 1126.40,372.37 1130.56,390.03 1134.72,406.72 1138.88,422.15 1143.04,436.09 1147.20,448.29 1151.36,458.55 1155.52,466.72 1159.68,472.65 1163.84,476.25 1168.00,477.45" fill="none" stroke="#000" stroke-width="4" stroke-linejoin="round"/>
<polyline points="964.16,477.45 968.32,476.31 972.48,472.90 976.64,467.28 980.80,459.53 984.96,449.80 989.12,438.23 993.28,425.02 997.44,410.38 1001.60,394.56 1005.76,377.81 1009.92,360.41 1014.08,342.65 1018.24,324.81 1022.40,307.19 1026.56,290.09 1030.72,273.77 1034.88,258.51 1039.04,244.55 1043.20,232.14 1047.36,221.46 1051.52,212.71 1055.68,206.01 1059.84,201.48 1064.00,199.20 1068.16,199.20 1072.32,201.48 1076.48,206.01 1080.64,212.71 1084.80,221.46 1088.96,232.14 1093.12,244.55 1097.28,258.51 1101.44,273.77 1105.60,290.09 1109.76,307.19 1113.92,324.81 1118.08,342.65 1122.24,360.41 1126.40,377.81 1130.56,394.56 1134.72,410.38 1138.88,425.02 1143.04,438.23 1147.20,449.80 1151.36,459.53 1155.52,467.28 1159.68,472.90 1163.84,476.31 1168.00,477.45" fill="none" stroke="#000" stroke-width="4" stroke-linejoin="round"/>
<polyline points="964.16,477.45 968.32,476.32 972.48,472.94 976.64,467.36 980.80,459.68 984.96,450.03 989.12,438.55 993.28,425.45 997.44,410.94 1001.60,395.24 1005.76,378.63 1009.92,361.38 1014.08,343.76 1018.24,326.07 1022.40,308.60 1026.56,291.63 1030.72,275.45 1034.88,260.32 1039.04,246.48 1043.20,234.17 1047.36,223.58 1051.52,214.89 1055.68,208.25 1059.84,203.76 1064.00,201.50 1068.16,201.50 1072.32,203.76 1076.48,208.25 1080.64,214.89 1084.80,223.58 1088.96,234.17 1093.12,246.48 1097.28,260.32 1101.44,275.45 1105.60,291.63 1109.76,308.60 1113.92,326.07 1118.08,343.76 1122.24,361.38 1126.40,378.63 1130.56,395.24 1134.72,410.94 1138.88,425.45 1143.04,438.55 1147.20,450.03 1151.36,459.68 1155.52,467.36 1159.68,472.94 1163.84,476.32 1168.00,477.45" fill="none" stroke="#000" stroke-width="4" stroke-linejoin="round"/>
<polyline points="964.16,477.45 968.32,476.33 972.48,472.97 976.64,467.44 980.80,459.83 984.96,450.25 989.12,438.87 993.28,425.88 997.44,411.48 1001.60,395.91 1005.76,379.44 1009.92,362.33 1014.08,344.85 1018.24,327.31 1022.40,309.98 1026.56,293.15 1030.72,277.10 1034.88,262.09 1039.04,248.36 1043.20,236.15 1047.36,225.65 1051.52,217.04 1055.68,210.45 1059.84,205.99 1064.00,203.75 1068.16,203.75 1072.32,205.99 1076.48,210.45 1080.64,217.04 1084.80,225.65 1088.96,236.15 1093.12,248.36 1097.28,262.09 1101.44,277.10 1105.60,293.15 1109.76,309.98 1113.92,327.31 1118.08,344.85 1122.24,362.33 1126.40,379.44 1130.56,395.91 1134.72,411.48 1138.88,425.88 1143.04,438.87 1147.20,450.25 1151.36,459.83 1155.52,467.44 1159.68,472.97 1163.84,476.33 1168.00,477.45" fill="none" stroke="#000" stroke-width="4" stroke-linejoin="round"/>
<polyline points="964.16,477.45 968.32,476.38 972.48,473.18 976.64,467.90 980.80,460.63 984.96,451.49 989.12,440.63 993.28,428.23 997.44,414.49 1001.60,399.64 1005.76,383.92 1009.92,367.58 1014.08,350.91 1018.24,334.16 1022.40,317.63 1026.56,301.57 1030.72,286.25 1034.88,271.92 1039.04,258.82 1043.20,247.17 1047.36,237.15 1051.52,228.93 1055.68,222.64 1059.84,218.39 1064.00,216.25 1068.16,216.25 1072.32,218.39 1076.48,222.64 1080.64,228.93 1084.80,237.15 1088.96,247.17 1093.12,258.82 1097.28,271.92 1101.44,286.25 1105.60,301.57 1109.76,317.63 1113.92,334.16 1118.08,350.91 1122.24,367.58 1126.40,383.92 1130.56,399.64 1134.72,414.49 1138.88,428.23 1143.04,440.63 1147.20,451.49 1151.36,460.63 1155.52,467.90 1159.68,473.18 1163.84,476.38 1168.00,477.45" fill="none" stroke="#000" stroke-width="4" stroke-linejoin="round"/>
<polyline points="964.16,477.45 968.32,476.40 972.48,473.25 976.64,468.07 980.80,460.92 984.96,451.94 989.12,441.27 993.28,429.09 997.44,415.59 1001.60,400.99 1005.76,385.55 1009.92,369.50 1014.08,353.11 1018.24,336.66 1022.40,320.41 1026.56,304.63 1030.72,289.58 1034.88,275.50 1039.04,262.63 1043.20,251.18 1047.36,241.34 1051.52,233.26 1055.68,227.08 1059.84,222.90 1064.00,220.80 1068.16,220.80 1072.32,222.90 1076.48,227.08 1080.64,233.26 1084.80,241.34 1088.96,251.18 1093.12,262.63 1097.28,275.50 1101.44,289.58 1105.60,304.63 1109.76,320.41 1113.92,336.66 1118.08,353.11 1122.24,369.50 1126.40,385.55 1130.56,400.99 1134.72,415.59 1138.88,429.09 1143.04,441.27 1147.20,451.94 1151.36,460.92 1155.52,468.07 1159.68,473.25 1163.84,476.40 1168.00,477.45" fill="none" stroke="#000" stroke-width="4" stroke-linejoin="round"/>
<polyline points="964.16,477.45 968.32,476.43 972.48,473.38 976.64,468.34 980.80,461.41 984.96,452.70 989.12,442.35 993.28,430.52 997.44,417.42 1001.60,403.26 1005.76,388.27 1009.92,372.69 1014.08,356.79 1018.24,340.83 1022.40,325.06 1026.56,309.75 1030.72,295.14 1034.88,281.48 1039.04,268.99 1043.20,257.88 1047.36,248.33 1051.52,240.49 1055.68,234.49 1059.84,230.44 1064.00,228.40 1068.16,228.40 1072.32,230.44 1076.48,234.49 1080.64,240.49 1084.80,248.33 1088.96,257.88 1093.12,268.99 1097.28,281.48 1101.44,295.14 1105.60,309.75 1109.76,325.06 1113.92,340.83 1118.08,356.79 1122.24,372.69 1126.40,388.27 1130.56,403.26 1134.72,417.42 1138.88,430.52 1143.04,442.35 1147.20,452.70 1151.36,461.41 1155.52,468.34 1159.68,473.38 1163.84,476.43 1168.00,477.45" fill="none" stroke="#000" stroke-width="4" stroke-linejoin="round"/>
<polyline points="964.16,477.45 968.32,476.47 972.48,473.55 976.64,468.73 980.80,462.10 984.96,453.75 989.12,443.84 993.28,432.52 997.44,419.97 1001.60,406.42 1005.76,392.06 1009.92,377.15 1014.08,361.93 1018.24,346.64 1022.40,331.55 1026.56,316.89 1030.72,302.90 1034.88,289.82 1039.04,277.87 1043.20,267.23 1047.36,258.08 1051.52,250.57 1055.68,244.83 1059.84,240.96 1064.00,239.00 1068.16,239.00 1072.32,240.96 1076.48,244.83 1080.64,250.57 1084.80,258.08 1088.96,267.23 1093.12,277.87 1097.28,289.82 1101.44,302.90 1105.60,316.89 1109.76,331.55 1113.92,346.64 1118.08,361.93 1122.24,377.15 1126.40,392.06 1130.56,406.42 1134.72,419.97 1138.88,432.52 1143.04,443.84 1147.20,453.75 1151.36,462.10 1155.52,468.73 1159.68,473.55 1163.84,476.47 1168.00,477.45" fill="none" stroke="#000" stroke-width="4" stroke-linejoin="round"/>
<polyline points="964.16,477.45 968.32,476.60 972.48,474.06 976.64,469.88 980.80,464.11 984.96,456.86 989.12,448.25 993.28,438.42 997.44,427.52 1001.60,415.74 1005.76,403.27 1009.92,390.32 1014.08,377.09 1018.24,363.81 1022.40,350.70 1026.56,337.96 1030.72,325.81 1034.88,314.45 1039.04,304.06 1043.20,294.82 1047.36,286.87 1051.52,280.35 1055.68,275.37 1059.84,272.00 1064.00,270.30 1068.16,270.30 1072.32,272.00 1076.48,275.37 1080.64,280.35 1084.80,286.87 1088.96,294.82 1093.12,304.06 1097.28,314.45 1101.44,325.81 1105.60,337.96 1109.76,350.70 1113.92,363.81 1118.08,377.09 1122.24,390.32 1126.40,403.27 1130.56,415.74 1134.72,427.52 1138.88,438.42 1143.04,448.25 1147.20,456.86 1151.36,464.11 1155.52,469.88 1159.68,474.06 1163.84,476.60 1168.00,477.45" fill="none" stroke="#000" stroke-width="4" stroke-linejoin="round"/>
<polyline points="964.16,477.45 968.32,476.68 972.48,474.38 976.64,470.59 980.80,465.37 984.96,458.80 989.12,450.99 993.28,442.08 997.44,432.21 1001.60,421.53 1005.76,410.24 1009.92,398.50 1014.08,386.52 1018.24,374.48 1022.40,362.60 1026.56,351.06 1030.72,340.05 1034.88,329.76 1039.04,320.34 1043.20,311.97 1047.36,304.77 1051.52,298.86 1055.68,294.34 1059.84,291.29 1064.00,289.75 1068.16,289.75 1072.32,291.29 1076.48,294.34 1080.64,298.86 1084.80,304.77 1088.96,311.97 1093.12,320.34 1097.28,329.76 1101.44,340.05 1105.60,351.06 1109.76,362.60 1113.92,374.48 1118.08,386.52 1122.24,398.50 1126.40,410.24 1130.56,421.53 1134.72,432.21 1138.88,442.08 1143.04,450.99 1147.20,458.80 1151.36,465.37 1155.52,470.59 1159.68,474.38 1163.84,476.68 1168.00,477.45" fill="none" stroke="#000" stroke-width="4" stroke-linejoin="round"/>
<polyline points="964.16,477.45 968.32,476.72 972.48,474.52 976.64,470.89 980.80,465.90 984.96,459.63 989.12,452.17 993.28,443.66 997.44,434.22 1001.60,424.02 1005.76,413.23 1009.92,402.01 1014.08,390.56 1018.24,379.07 1022.40,367.71 1026.56,356.68 1030.72,346.16 1034.88,336.33 1039.04,327.33 1043.20,319.33 1047.36,312.45 1051.52,306.81 1055.68,302.49 1059.84,299.57 1064.00,298.10 1068.16,298.10 1072.32,299.57 1076.48,302.49 1080.64,306.81 1084.80,312.45 1088.96,319.33 1093.12,327.33 1097.28,336.33 1101.44,346.16 1105.60,356.68 1109.76,367.71 1113.92,379.07 1118.08,390.56 1122.24,402.01 1126.40,413.23 1130.56,424.02 1134.72,434.22 1138.88,443.66 1143.04,452.17 1147.20,459.63 1151.36,465.90 1155.52,470.89 1159.68,474.52 1163.84,476.72 1168.00,477.45" fill="none" stroke="#000" stroke-width="4" stroke-linejoin="round"/>
<polyline points="964.16,477.45 968.32,476.72 972.48,474.54 976.64,470.95 980.80,466.00 984.96,459.78 989.12,452.38 993.28,443.94 997.44,434.58 1001.60,424.47 1005.76,413.76 1009.92,402.64 1014.08,391.29 1018.24,379.89 1022.40,368.63 1026.56,357.69 1030.72,347.26 1034.88,337.51 1039.04,328.59 1043.20,320.65 1047.36,313.83 1051.52,308.23 1055.68,303.95 1059.84,301.06 1064.00,299.60 1068.16,299.60 1072.32,301.06 1076.48,303.95 1080.64,308.23 1084.80,313.83 1088.96,320.65 1093.12,328.59 1097.28,337.51 1101.44,347.26 1105.60,357.69 1109.76,368.63 1113.92,379.89 1118.08,391.29 1122.24,402.64 1126.40,413.76 1130.56,424.47 1134.72,434.58 1138.88,443.94 1143.04,452.38 1147.20,459.78 1151.36,466.00 1155.52,470.95 1159.68,474.54 1163.84,476.72 1168.00,477.45" fill="none" stroke="#000" stroke-width="4" stroke-linejoin="round"/>
<polyline points="964.16,477.45 968.32,476.78 972.48,474.76 976.64,471.44 980.80,466.86 984.96,461.10 989.12,454.26 993.28,446.44 997.44,437.79 1001.60,428.43 1005.76,418.53 1009.92,408.24 1014.08,397.73 1018.24,387.18 1022.40,376.77 1026.56,366.65 1030.72,357.00 1034.88,347.97 1039.04,339.72 1043.20,332.38 1047.36,326.07 1051.52,320.89 1055.68,316.93 1059.84,314.25 1064.00,312.90 1068.16,312.90 1072.32,314.25 1076.48,316.93 1080.64,320.89 1084.80,326.07 1088.96,332.38 1093.12,339.72 1097.28,347.97 1101.44,357.00 1105.60,366.65 1109.76,376.77 1113.92,387.18 1118.08,397.73 1122.24,408.24 1126.40,418.53 1130.56,428.43 1134.72,437.79 1138.88,446.44 1143.04,454.26 1147.20,461.10 1151.36,466.86 1155.52,471.44 1159.68,474.76 1163.84,476.78 1168.00,477.45" fill="none" stroke="#000" stroke-width="4" stroke-linejoin="round"/>
<polyline points="964.16,477.45 968.32,476.86 972.48,475.09 976.64,472.18 980.80,468.17 984.96,463.13 989.12,457.13 993.28,450.29 997.44,442.71 1001.60,434.51 1005.76,425.83 1009.92,416.82 1014.08,407.62 1018.24,398.37 1022.40,389.25 1026.56,380.38 1030.72,371.93 1034.88,364.02 1039.04,356.80 1043.20,350.36 1047.36,344.83 1051.52,340.30 1055.68,336.83 1059.84,334.48 1064.00,333.30 1068.16,333.30 1072.32,334.48 1076.48,336.83 1080.64,340.30 1084.80,344.83 1088.96,350.36 1093.12,356.80 1097.28,364.02 1101.44,371.93 1105.60,380.38 1109.76,389.25 1113.92,398.37 1118.08,407.62 1122.24,416.82 1126.40,425.83 1130.56,434.51 1134.72,442.71 1138.88,450.29 1143.04,457.13 1147.20,463.13 1151.36,468.17 1155.52,472.18 1159.68,475.09 1163.84,476.86 1168.00,477.45" fill="none" stroke="#000" stroke-width="4" stroke-linejoin="round"/>
<polyline points="964.16,477.45 968.32,476.98 972.48,475.57 976.64,473.24 980.80,470.03 984.96,466.00 989.12,461.21 993.28,455.73 997.44,449.67 1001.60,443.12 1005.76,436.18 1009.92,428.97 1014.08,421.62 1018.24,414.23 1022.40,406.93 1026.56,399.85 1030.72,393.09 1034.88,386.76 1039.04,380.99 1043.20,375.84 1047.36,371.42 1051.52,367.79 1055.68,365.02 1059.84,363.15 1064.00,362.20 1068.16,362.20 1072.32,363.15 1076.48,365.02 1080.64,367.79 1084.80,371.42 1088.96,375.84 1093.12,380.99 1097.28,386.76 1101.44,393.09 1105.60,399.85 1109.76,406.93 1113.92,414.23 1118.08,421.62 1122.24,428.97 1126.40,436.18 1130.56,443.12 1134.72,449.67 1138.88,455.73 1143.04,461.21 1147.20,466.00 1151.36,470.03 1155.52,473.24 1159.68,475.57 1163.84,476.98 1168.00,477.45" fill="none" stroke="#000" stroke-width="4" stroke-linejoin="round"/>
<polyline points="964.16,477.45 968.32,477.02 972.48,475.74 976.64,473.63 980.80,470.71 984.96,467.05 989.12,462.70 993.28,457.73 997.44,452.23 1001.60,446.28 1005.76,439.98 1009.92,433.43 1014.08,426.75 1018.24,420.04 1022.40,413.42 1026.56,406.98 1030.72,400.85 1034.88,395.11 1039.04,389.86 1043.20,385.19 1047.36,381.17 1051.52,377.88 1055.68,375.36 1059.84,373.66 1064.00,372.80 1068.16,372.80 1072.32,373.66 1076.48,375.36 1080.64,377.88 1084.80,381.17 1088.96,385.19 1093.12,389.86 1097.28,395.11 1101.44,400.85 1105.60,406.98 1109.76,413.42 1113.92,420.04 1118.08,426.75 1122.24,433.43 1126.40,439.98 1130.56,446.28 1134.72,452.23 1138.88,457.73 1143.04,462.70 1147.20,467.05 1151.36,470.71 1155.52,473.63 1159.68,475.74 1163.84,477.02 1168.00,477.45" fill="none" stroke="#000" stroke-width="4" stroke-linejoin="round"/>
<rect x="960" y="64.0" width="208" height="758.0" fill="none" stroke="#000" stroke-width="2"/>
<line x1="960.00" y1="822.0" x2="960.00" y2="833.0" stroke="#000" stroke-width="2"/>
<text transform="translate(960.00,864.7) scale(1,1.04)" text-anchor="middle">0</text>
<line x1="1001.60" y1="822.0" x2="1001.60" y2="833.0" stroke="#000" stroke-width="2"/>
<text transform="translate(1001.60,864.7) scale(1,1.04)" text-anchor="middle">10</text>
<line x1="1043.20" y1="822.0" x2="1043.20" y2="833.0" stroke="#000" stroke-width="2"/>
<text transform="translate(1043.20,864.7) scale(1,1.04)" text-anchor="middle">20</text>
<line x1="1084.80" y1="822.0" x2="1084.80" y2="833.0" stroke="#000" stroke-width="2"/>
<text transform="translate(1084.80,864.7) scale(1,1.04)" text-anchor="middle">30</text>
<line x1="1126.40" y1="822.0" x2="1126.40" y2="833.0" stroke="#000" stroke-width="2"/>
<text transform="translate(1126.40,864.7) scale(1,1.04)" text-anchor="middle">40</text>
<line x1="1168.00" y1="822.0" x2="1168.00" y2="833.0" stroke="#000" stroke-width="2"/>
<text transform="translate(1168.00,864.7) scale(1,1.04)" text-anchor="middle">50</text>
<line x1="949" y1="822.00" x2="960" y2="822.00" stroke="#000" stroke-width="2"/>
<text transform="translate(940,832.90) scale(1,1.04)" text-anchor="end"><tspan dy="2.2">−</tspan><tspan dy="-2.2">5</tspan></text>
<line x1="949" y1="477.45" x2="960" y2="477.45" stroke="#000" stroke-width="2"/>
<text transform="translate(940,488.35) scale(1,1.04)" text-anchor="end">0</text>
<line x1="949" y1="132.91" x2="960" y2="132.91" stroke="#000" stroke-width="2"/>
<text transform="translate(940,143.81) scale(1,1.04)" text-anchor="end">5</text>
<text transform="translate(1064.30,58.75) scale(1,1.055)" text-anchor="middle">Item:I4, c:small</text>
</g>
</svg></body></html>
